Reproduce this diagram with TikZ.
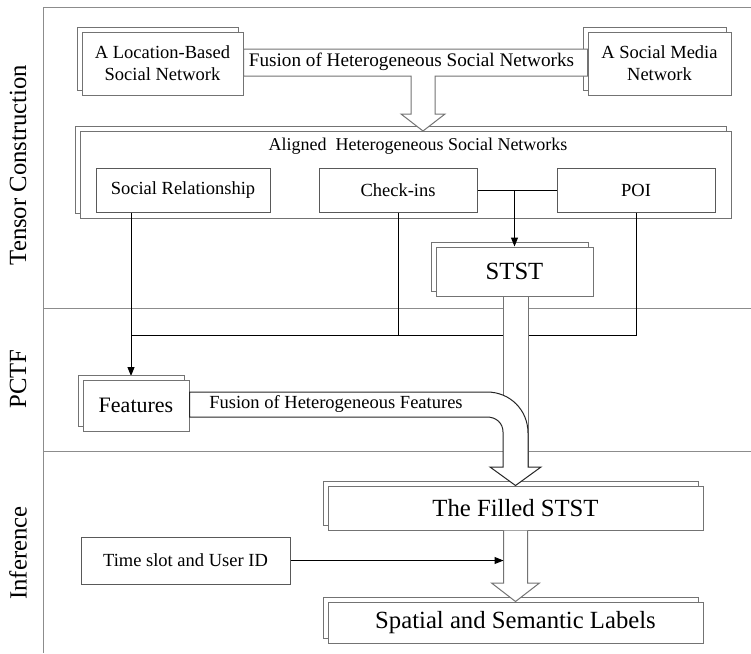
\documentclass[tikz,border=0pt]{standalone}
\usepackage{fontspec}
\setmainfont{Liberation Serif}
\usetikzlibrary{arrows.meta,shadows}

\tikzset{
  lane/.style={draw=black!45, line width=1pt},
  stack/.style={draw=black!55, fill=white, line width=1pt, inner sep=0pt, align=center,
    copy shadow={shadow xshift=-5pt, shadow yshift=5pt, draw=black!55, fill=white, line width=1pt}},
  plain/.style={draw=black!65, fill=white, line width=1pt, inner sep=0pt, align=center},
  hollow/.style={draw=black!55, fill=white, line width=1pt, line join=miter},
  curvearrow/.style={draw=black!85, fill=white, line width=1pt, line join=miter},
  conn/.style={draw=black, line width=1pt, -{Triangle[length=9pt,width=7pt]}},
  link/.style={draw=black, line width=1pt},
  big/.style={font=\fontsize{24.7}{28}\selectfont},
}

\begin{document}
\begin{tikzpicture}[x=1pt, y=-1pt, font=\fontsize{18.5}{22}\selectfont]
  \useasboundingbox (0,0) rectangle (751,653);
  \draw[lane] (751,7) -- (43,7) -- (43,653);
  \draw[lane] (43,308) -- (751,308);
  \draw[lane] (43,451) -- (751,451);
  \node[big, rotate=90] (tc) at (18,165) {Tensor Construction};
  \node[big, rotate=90] (pctf) at (18,379) {PCTF};
  \node[big, rotate=90] (inf) at (18,553) {Inference};

  \node[stack, minimum width=161pt, minimum height=63pt] (lbsn) at (162.5,63.5) {A Location-Based\\Social Network};
  \node[stack, minimum width=143pt, minimum height=63pt] (smn) at (659.5,63.5) {A Social Media\\Network};
  \node[stack, minimum width=651pt, minimum height=87pt] (ahsn) at (405.5,174.5) {};
  \node[font=\fontsize{18}{22}\selectfont] (ahsnt) at (418,146) {Aligned~ Heterogeneous Social Networks};
  \node[plain, minimum width=174pt, minimum height=44pt] (sr) at (183,190) {Social Relationship};
  \node[plain, minimum width=158pt, minimum height=44pt] (chk) at (398,190) {Check-ins};
  \node[plain, minimum width=158pt, minimum height=44pt] (poi) at (636,190) {POI};

  \draw[hollow] ([yshift=14.5pt]lbsn.east) -- ([yshift=14.5pt]smn.west) -- ([yshift=-12.5pt]smn.west)
    -- (435,76) -- (435,114) -- (445,114) -- (423,131) -- (401,114) -- (411,114) -- (411,76)
    -- ([yshift=-12.5pt]lbsn.east) -- cycle;
  \node[font=\fontsize{19.2}{22}\selectfont] (fsn) at (411.5,62) {Fusion of Heterogeneous Social Networks};

  \node[stack, big, minimum width=157pt, minimum height=49pt] (stst) at (514.5,271.5) {STST};

  \coordinate (jf) at (131,335);
  \draw[link] (chk.east) -- (poi.west);
  \draw[conn] (chk.east -| stst.north) -- (stst.north);
  \draw[link] (chk.south) -- (chk.south |- jf);
  \draw[link] (poi.south) -- (poi.south |- jf) -- (jf);
  \draw[conn] (sr.south -| jf) -- (131,376);

  \node[stack, minimum width=106pt, minimum height=51pt, font=\fontsize{22}{26}\selectfont] (feat) at (136,405.5) {Features};
  \node[stack, big, minimum width=375pt, minimum height=44pt] (filled) at (515.5,508) {The Filled STST};
  \node[plain, minimum width=209pt, minimum height=47pt] (time) at (185.5,560.5) {Time slot and User ID};
  \node[stack, big, minimum width=375pt, minimum height=41pt] (sem) at (515.5,622.5) {Spatial and Semantic Labels};

  \draw[hollow] ([xshift=-11.5pt]stst.south) -- (503,470) -- (528,470) -- ([xshift=13.5pt]stst.south);
  \draw[curvearrow] ([yshift=13.5pt]feat.east) -- (487,392) .. controls (510,392) and (528,410) .. (528,433)
    -- (528,467) -- (541,467) -- (filled.north) -- (490,467) -- (503,467) -- (503,432)
    .. controls (503,423) and (496,417) .. (487,417) -- ([yshift=-11.5pt]feat.east) -- cycle;
  \node (fhf) at (336,404) {Fusion of Heterogeneous Features};

  \coordinate (stemL) at ([xshift=-12pt]filled.south);
  \draw[hollow] (stemL) -- (503.5,583) -- (491.5,583) -- (sem.north) -- (539.5,583) -- (527.5,583)
    -- ([xshift=12pt]filled.south);
  \draw[conn] (time.east) -- (time.east -| stemL);
\end{tikzpicture}
\end{document}
